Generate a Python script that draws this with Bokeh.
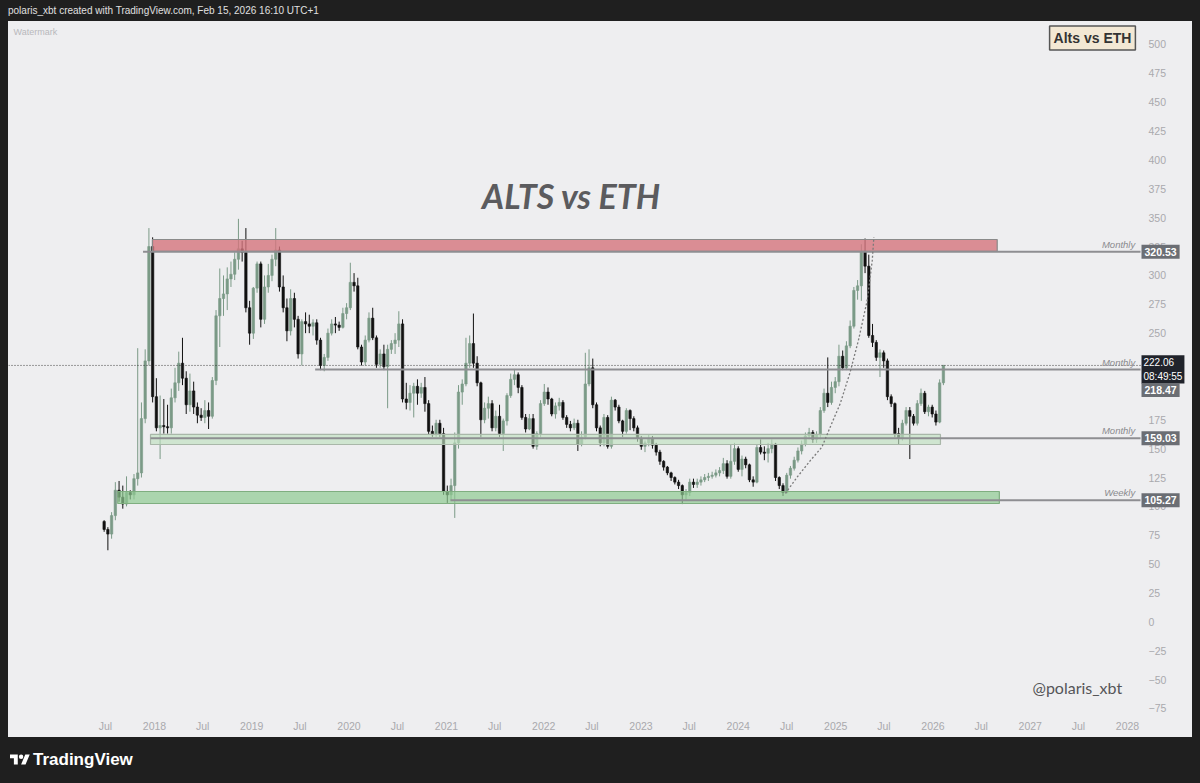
import numpy as np
import pandas as pd
from bokeh.plotting import figure
from bokeh.models import (Range1d, LinearAxis, FixedTicker, Label, Div,
                          ColumnDataSource, GlobalInlineStyleSheet)
from bokeh.layouts import column
from bokeh.core.properties import value
from bokeh.embed import file_html
from bokeh.resources import INLINE

# ---------------- data (2-week candles) ----------------
last_bar = "2026-02-09"
first_open = 87.0
closes = [80, 76, 92, 114, 108, 102, 112, 110, 124, 129, 176, 226, 325, 195, 168, 170, 169, 168, 194, 207,
          224, 211, 188, 200, 186, 179, 177, 183, 178, 209, 265, 280, 284, 297, 301, 314, 323, 320, 272, 250,
          289, 310, 262, 290, 300, 314, 322, 290, 272, 252, 280, 262, 232, 260, 258, 256, 259, 244, 222, 229,
          250, 258, 257, 255, 267, 272, 294, 291, 238, 225, 244, 263, 246, 223, 232, 221, 236, 241, 244, 258,
          193, 190, 198, 204, 198, 203, 189, 165, 162, 172, 163, 113, 110, 118, 155, 199, 206, 224, 241, 224,
          207, 175, 185, 189, 168, 178, 163, 174, 196, 210, 214, 203, 177, 167, 176, 152, 163, 189, 199, 193,
          180, 187, 190, 177, 171, 168, 172, 154, 160, 206, 220, 188, 168, 155, 177, 152, 192, 186, 174, 165,
          183, 176, 168, 159, 152, 155, 159, 153, 147, 139, 134, 129, 125, 121, 118, 110, 112, 121, 119, 121,
          123, 125, 126, 127, 129, 131, 137, 126, 139, 150, 132, 141, 136, 123, 121, 151, 147, 146, 150, 154,
          125, 118, 112, 127, 133, 140, 148, 154, 161, 164, 158, 162, 183, 198, 190, 203, 208, 230, 220, 239,
          256, 287, 291, 321, 308, 248, 242, 229, 233, 226, 195, 189, 163, 159, 172, 183, 178, 172, 189, 198,
          182, 186, 180, 173, 207, 222.06]
highs = [88, 82, 95, 121, 122, 118, 126, 114, 128, 237, 190, 236, 341, 333, 211, 196, 193, 188, 202, 220,
         234, 246, 217, 215, 208, 190, 185, 192, 190, 212, 270, 306, 300, 307, 312, 320, 349, 330, 341, 278,
         290, 312, 312, 300, 310, 318, 341, 325, 300, 280, 288, 285, 265, 262, 268, 266, 262, 262, 246, 232,
         254, 262, 264, 260, 272, 276, 311, 302, 298, 240, 248, 268, 272, 248, 236, 240, 240, 244, 250, 269,
         262, 207, 205, 207, 210, 207, 212, 192, 170, 175, 175, 168, 118, 124, 164, 205, 210, 246, 248, 267,
         230, 208, 190, 195, 192, 183, 188, 176, 198, 215, 219, 216, 205, 180, 180, 180, 165, 192, 206, 203,
         194, 190, 194, 192, 179, 174, 176, 175, 165, 233, 236, 228, 190, 170, 180, 179, 195, 193, 188, 175,
         185, 184, 178, 170, 161, 157, 162, 161, 155, 149, 140, 135, 130, 126, 123, 119, 115, 124, 124, 124,
         126, 128, 129, 130, 132, 134, 142, 140, 154, 155, 152, 144, 143, 137, 126, 154, 158, 152, 155, 158,
         155, 126, 120, 129, 135, 143, 151, 157, 164, 168, 166, 165, 186, 202, 229, 208, 212, 240, 235, 243,
         261, 290, 296, 327, 332, 318, 258, 244, 236, 235, 228, 197, 190, 168, 175, 186, 186, 180, 192, 202,
         200, 188, 188, 183, 210, 222.5]
lows = [78, 62, 72, 88, 104, 98, 100, 106, 106, 118, 125, 172, 222, 190, 165, 141, 163, 163, 163, 190,
        200, 205, 180, 182, 180, 172, 174, 172, 167, 176, 205, 238, 265, 270, 290, 296, 305, 312, 268, 240,
        245, 285, 255, 258, 285, 295, 308, 286, 268, 243, 248, 255, 228, 222, 250, 250, 248, 240, 218, 217,
        226, 248, 250, 252, 254, 262, 270, 286, 236, 222, 222, 242, 244, 220, 220, 218, 185, 232, 232, 238,
        190, 184, 183, 177, 188, 194, 182, 162, 160, 160, 160, 110, 103, 105, 90, 150, 188, 204, 220, 220,
        204, 160, 172, 176, 165, 165, 160, 148, 170, 194, 205, 198, 175, 164, 166, 150, 149, 160, 187, 188,
        178, 176, 183, 175, 168, 165, 166, 148, 152, 158, 204, 185, 165, 152, 152, 150, 150, 183, 172, 160,
        163, 166, 165, 156, 149, 147, 152, 150, 144, 136, 131, 127, 122, 119, 115, 102, 106, 109, 116, 116,
        118, 121, 122, 124, 125, 126, 128, 124, 124, 136, 130, 126, 133, 121, 117, 120, 145, 140, 138, 146,
        122, 115, 109, 111, 124, 131, 138, 145, 152, 158, 155, 155, 158, 181, 186, 188, 198, 204, 218, 218,
        237, 254, 279, 278, 302, 246, 238, 226, 212, 220, 192, 186, 160, 154, 157, 170, 141, 170, 170, 187,
        180, 178, 177, 170, 172, 205]

# zones (drawn boxes)
zone_start = ["2017-12-24", "2017-12-17", "2017-08-16"]
zone_end = ["2026-08-30", "2026-01-29", "2026-09-07"]
zone_bottom = [320.8, 153.6, 102.5]
zone_top = [331.1, 162.3, 112.9]
zone_fill = ["#d4747d", "#bfe0bf", "#8fcb91"]
zone_alpha = [0.8, 0.65, 0.7]
zone_line = ["#8a8a8a", "#a9b7a9", "#7fae80"]

# horizontal levels
level_values = [320.53, 218.47, 159.03, 105.27]
level_start = ["2017-11-19", "2019-08-27", "2017-12-17", "2021-01-16"]
level_texts = ["Monthly", "Monthly", "Monthly", "Weekly"]
level_tag_y = [320.53, 200.8, 159.03, 105.27]
last_price = 222.06
countdown = "08:49:55"

# parabolic dashed curve
curve_dates = ["2024-06-26", "2024-08-09", "2024-09-28", "2024-11-10", "2024-12-11", "2025-01-18",
               "2025-02-24", "2025-03-27", "2025-04-29", "2025-05-18", "2025-05-24"]
curve_prices = [111.2, 125.3, 139.8, 151.3, 168.6, 189.1, 216.2, 243.7, 278.3, 313.0, 333.0]

x_tick_dates = ["2017-07-01", "2018-01-01", "2018-07-01", "2019-01-01", "2019-07-01", "2020-01-01",
                "2020-07-01", "2021-01-01", "2021-07-01", "2022-01-01", "2022-07-01", "2023-01-01",
                "2023-07-01", "2024-01-01", "2024-07-01", "2025-01-01", "2025-07-01", "2026-01-01",
                "2026-07-01", "2027-01-01", "2027-07-01", "2028-01-01"]
x_tick_labels = ["Jul", "2018", "Jul", "2019", "Jul", "2020", "Jul", "2021", "Jul", "2022", "Jul", "2023",
                 "Jul", "2024", "Jul", "2025", "Jul", "2026", "Jul", "2027", "Jul", "2028"]
y_ticks = list(range(-75, 501, 25))


def ms(d):
    return float(pd.Timestamp(d).value // 10**6)


# ---------------- build ----------------
n = len(closes)
dates = pd.date_range(end=last_bar, periods=n, freq="14D")
x = (dates.astype("int64") // 10**6).astype(float)
o = np.array([first_open] + closes[:-1], dtype=float)
c = np.array(closes, dtype=float)
h = np.maximum(np.array(highs, dtype=float), np.maximum(o, c))
l = np.minimum(np.array(lows, dtype=float), np.minimum(o, c))
up = c >= o
UP, DN = "#7b9a87", "#111111"
colors = [UP if u else DN for u in up]
src = ColumnDataSource(dict(x=x, o=o, h=h, l=l, c=c, top=np.maximum(o, c), bot=np.minimum(o, c), col=colors))

PANEL = "#eeeef0"
DARK = "#1f1f1f"
x_left, x_right = ms("2016-07-02"), ms("2028-09-01")
scale_x = ms("2028-02-19")  # where the price scale starts

p = figure(width=1184, height=716, x_axis_type=None, y_axis_type=None,
           x_range=Range1d(x_left, x_right), y_range=Range1d(-78.5, 519.9),
           toolbar_location=None, output_backend="svg",
           background_fill_color=PANEL, border_fill_color=PANEL, outline_line_color=None,
           min_border_left=0, min_border_top=0, min_border_right=0, min_border_bottom=25,
           styles={"background-color": PANEL})

xaxis = LinearAxis(ticker=FixedTicker(ticks=[ms(d) for d in x_tick_dates]),
                   major_label_overrides={ms(d): t for d, t in zip(x_tick_dates, x_tick_labels)})
p.add_layout(xaxis, "below")
yax = LinearAxis(ticker=FixedTicker(ticks=y_ticks), fixed_location=scale_x,
                 major_label_overrides={t: "\u2212" + str(-t) for t in y_ticks if t < 0})
p.add_layout(yax, "right")
for ax in (xaxis, yax):
    ax.axis_line_color = None
    ax.major_tick_line_color = None
    ax.minor_tick_line_color = None
    ax.major_tick_out = 0
    ax.major_tick_in = 0
    ax.major_label_text_color = "#a9a9ad"
    ax.major_label_text_font = "Liberation Sans"
    ax.major_label_text_font_size = "10.5px"
xaxis.major_label_standoff = 7
yax.major_label_standoff = 8

# candles
w = 9 * 24 * 3600 * 1000
p.segment(x0="x", y0="l", x1="x", y1="h", color="col", line_width=1, source=src)
p.vbar(x="x", width=w, top="top", bottom="bot", fill_color="col", line_color="col", line_width=0.6, source=src)

# zones
p.quad(left=[ms(d) for d in zone_start], right=[ms(d) for d in zone_end], bottom=zone_bottom, top=zone_top,
       fill_color=zone_fill, fill_alpha=zone_alpha, line_color=zone_line, line_width=1.2)

# levels
p.segment(x0=[ms(d) for d in level_start], y0=level_values, x1=[scale_x] * 4, y1=level_values,
          line_color="#8e8e92", line_width=2)
p.segment(x0=[x_left], y0=[last_price], x1=[scale_x], y1=[last_price], line_color="#222222",
          line_width=1, line_dash="1 2", line_alpha=0.85)
p.text(x=[ms("2028-01-30")] * 4, y=level_values, text=level_texts, text_align="right",
       text_baseline="bottom", y_offset=-2, text_font=value("Liberation Sans"), text_font_style="italic",
       text_font_size="9.5px", text_color="#8a8a8e")

# parabolic curve
p.line(x=[ms(d) for d in curve_dates], y=curve_prices, line_color="#7a7a7a", line_width=1.3, line_dash="2 2")

# price tags on the scale
p.add_layout(Label(x=1133, x_units="screen", y=218.6, y_units="data", text=f"{last_price:.2f}\n{countdown}",
                   text_baseline="middle", text_align="left", text_color="white",
                   text_font="Liberation Sans", text_font_size="10px",
                   background_fill_color="#20232b", padding=2))
for v, yv in zip(level_values, level_tag_y):
    p.add_layout(Label(x=1133, x_units="screen", y=yv, y_units="data", text=f"{v:.2f}",
                       text_baseline="middle", text_align="left", text_color="white",
                       text_font="Liberation Sans", text_font_style="bold", text_font_size="10.5px",
                       background_fill_color="#6b6e74", padding=3))

# texts
p.add_layout(Label(x=1084, x_units="screen", y=505.6, y_units="data", text="Alts vs ETH",
                   text_align="center", text_baseline="middle", text_color="#333333",
                   text_font="Liberation Sans", text_font_style="bold", text_font_size="14px",
                   background_fill_color="#f3e8d4", border_line_color="#555555", border_line_width=1.5,
                   padding=4))
p.add_layout(Label(x=563, x_units="screen", y=369.0, y_units="data", text="ALTS vs ETH",
                   text_align="center", text_baseline="middle", text_color="#5b5b5e",
                   text_font="Lato", text_font_style="bold italic", text_font_size="34px"))
p.add_layout(Label(x=1024, x_units="screen", y=-56.8, y_units="data", text="@polaris_xbt",
                   text_align="left", text_baseline="middle", text_color="#555558",
                   text_font="Lato", text_font_size="16px"))
p.add_layout(Label(x=5, x_units="screen", y=510.4, y_units="data", text="Watermark",
                   text_align="left", text_baseline="middle", text_color="#b8b8bc",
                   text_font="Liberation Sans", text_font_size="9px"))

top = Div(text="polaris_xbt created with TradingView.com, Feb 15, 2026 16:10 UTC+1", width=1184, height=21,
          margin=0,
          styles={"background-color": DARK, "color": "#e0e0e0", "font-family": "Liberation Sans",
                  "font-size": "10px", "line-height": "21px", "white-space": "nowrap"})
logo = ('<svg width="20" height="16" viewBox="0 0 36 28" style="vertical-align:middle;margin-right:3px">'
        '<path d="M14 22H7V11H0V4h14v18zM28 22h-8l7.5-18h8L28 22z" fill="#ffffff"/>'
        '<circle cx="20" cy="8" r="4" fill="#ffffff"/></svg>')
bottom = Div(text=f'<div style="padding-left:2px;display:flex;align-items:center;height:46px">{logo}'
                  '<span style="font-family:Liberation Sans;font-weight:bold;font-size:17px;color:#ffffff">'
                  'TradingView</span></div>', width=1184, height=46, margin=0,
             styles={"background-color": DARK})

css = (f"html{{background:{DARK};margin:0;padding:0;}} "
       f"body{{background:{DARK};margin:0;padding:0 0 0 8px;}}")
page = column(top, p, bottom, spacing=0, margin=0, stylesheets=[GlobalInlineStyleSheet(css=css)])

open("out.html", "w").write(file_html(page, INLINE))
